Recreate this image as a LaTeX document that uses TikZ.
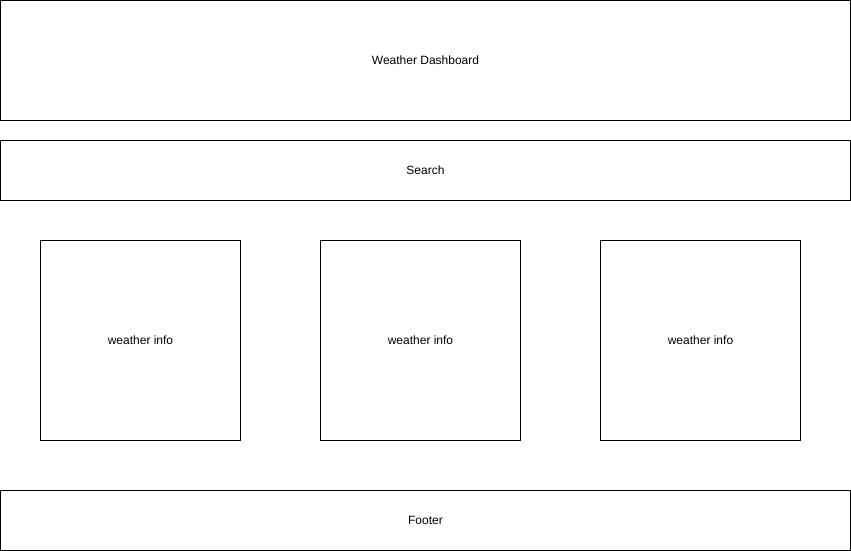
\documentclass[tikz,border=0pt]{standalone}
\usepackage{fontspec}
\setmainfont{Liberation Sans}
\usetikzlibrary{positioning}

\begin{document}
\begin{tikzpicture}[x=1pt, y=1pt,
    panel/.style={rectangle, draw, line width=1pt, inner sep=0pt, outer sep=0pt, font=\fontsize{12}{14}\selectfont},
    bar/.style={panel, minimum width=850pt},
    card/.style={panel, minimum width=200pt, minimum height=200pt}]
    \useasboundingbox (-0.5,0.5) rectangle (850.5,-550.5);

    % Header and search
    \node (title) [bar, minimum height=120pt] at (425,-60) {Weather Dashboard};
    \node (search) [bar, minimum height=60pt, below=20pt of title] {Search};

    % Weather cards
    \node (card1) [card] at (140,-340) {weather info};
    \node (card2) [card, right=80pt of card1] {weather info};
    \node (card3) [card, right=80pt of card2] {weather info};

    % Footer
    \node (footer) [bar, minimum height=60pt] at (425,-520) {Footer};
\end{tikzpicture}
\end{document}
